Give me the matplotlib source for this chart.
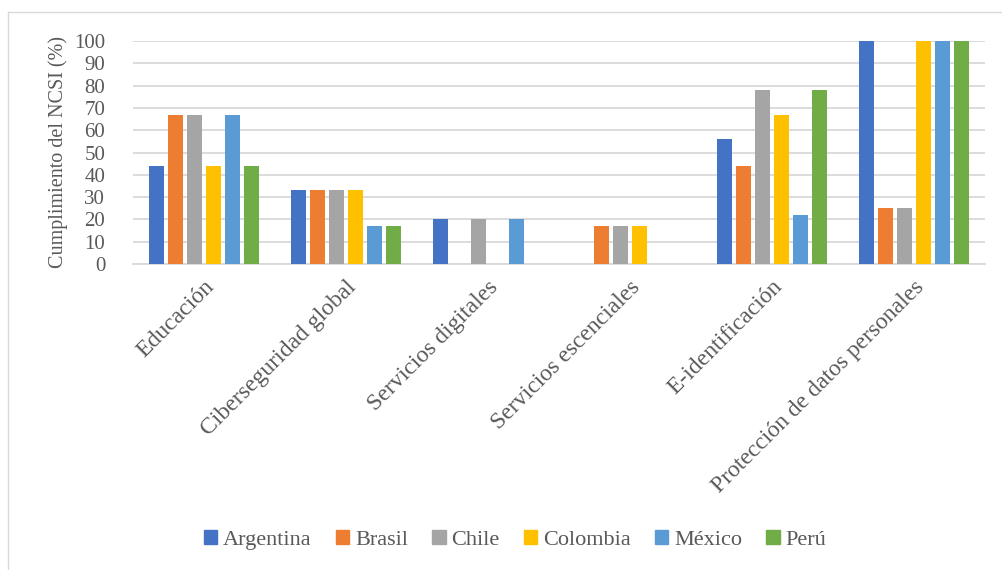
import numpy as np
import matplotlib
matplotlib.use("Agg")
import matplotlib.pyplot as plt
from matplotlib.lines import Line2D

categorias = ["Educación", "Ciberseguridad global", "Servicios digitales",
              "Servicios escenciales", "E-identificación", "Protección de datos personales"]
paises = ["Argentina", "Brasil", "Chile", "Colombia", "México", "Perú"]
argentina = [44, 33, 20, 0, 56, 100]
brasil = [67, 33, 0, 17, 44, 25]
chile = [67, 33, 20, 17, 78, 25]
colombia = [44, 33, 0, 17, 67, 100]
mexico = [67, 17, 20, 0, 22, 100]
peru = [44, 17, 0, 0, 78, 100]
series = [argentina, brasil, chile, colombia, mexico, peru]
colores = ["#4472C4", "#ED7D31", "#A5A5A5", "#FFC000", "#5B9BD5", "#70AD47"]

texto = "#595959"
fam = ["Liberation Serif", "DejaVu Serif"]
plt.rcParams["font.family"] = fam

fig = plt.figure(figsize=(10.02, 5.70), dpi=100)
W, H = 1002, 570
ax = fig.add_axes([133 / W, 1 - 264 / H, (985 - 133) / W, (264 - 41) / H])

x = np.arange(len(categorias))
paso = 19 / 142
ancho = 15 / 142
for i, (vals, c) in enumerate(zip(series, colores)):
    ax.bar(x + (i - 2.5) * paso, vals, width=ancho, color=c, label=paises[i], zorder=3)

ax.set_xlim(-0.5, len(categorias) - 0.5)
ax.set_ylim(0, 100)
ax.set_yticks(range(0, 101, 10))
ax.yaxis.grid(True, color="#D9D9D9", linewidth=1.3, zorder=0)
for s in ["top", "right", "left"]:
    ax.spines[s].set_visible(False)
ax.spines["bottom"].set_color("#D9D9D9")
ax.spines["bottom"].set_linewidth(1.3)
ax.tick_params(axis="both", length=0, colors=texto)
ax.tick_params(axis="y", pad=20, labelsize=15)
ax.set_xticks(x)
ax.set_xticklabels(categorias, rotation=45, ha="right", rotation_mode="anchor",
                   color=texto, fontsize=17)
ax.tick_params(axis="x", pad=9)
ax.set_ylabel("Cumplimiento del NCSI (%)", fontsize=14.5, color=texto)
ax.yaxis.set_label_coords(-0.076, 0.5)

handles = [plt.Rectangle((0, 0), 1, 1, color=c) for c in colores]
leg = fig.legend(handles, paises, loc="center", bbox_to_anchor=(515 / W, 1 - 540 / H), ncol=6,
                 frameon=False, fontsize=16, labelcolor=texto,
                 handlelength=0.6, handleheight=0.6, handletextpad=0.25, columnspacing=1.1)

# borde del gráfico
fig.add_artist(Line2D([8 / W, 8 / W], [0, 1 - 12 / H], color="#D9D9D9", linewidth=1, transform=fig.transFigure))
fig.add_artist(Line2D([8 / W, 1], [1 - 12 / H, 1 - 12 / H], color="#D9D9D9", linewidth=1, transform=fig.transFigure))

fig.savefig("out.png", dpi=100)
